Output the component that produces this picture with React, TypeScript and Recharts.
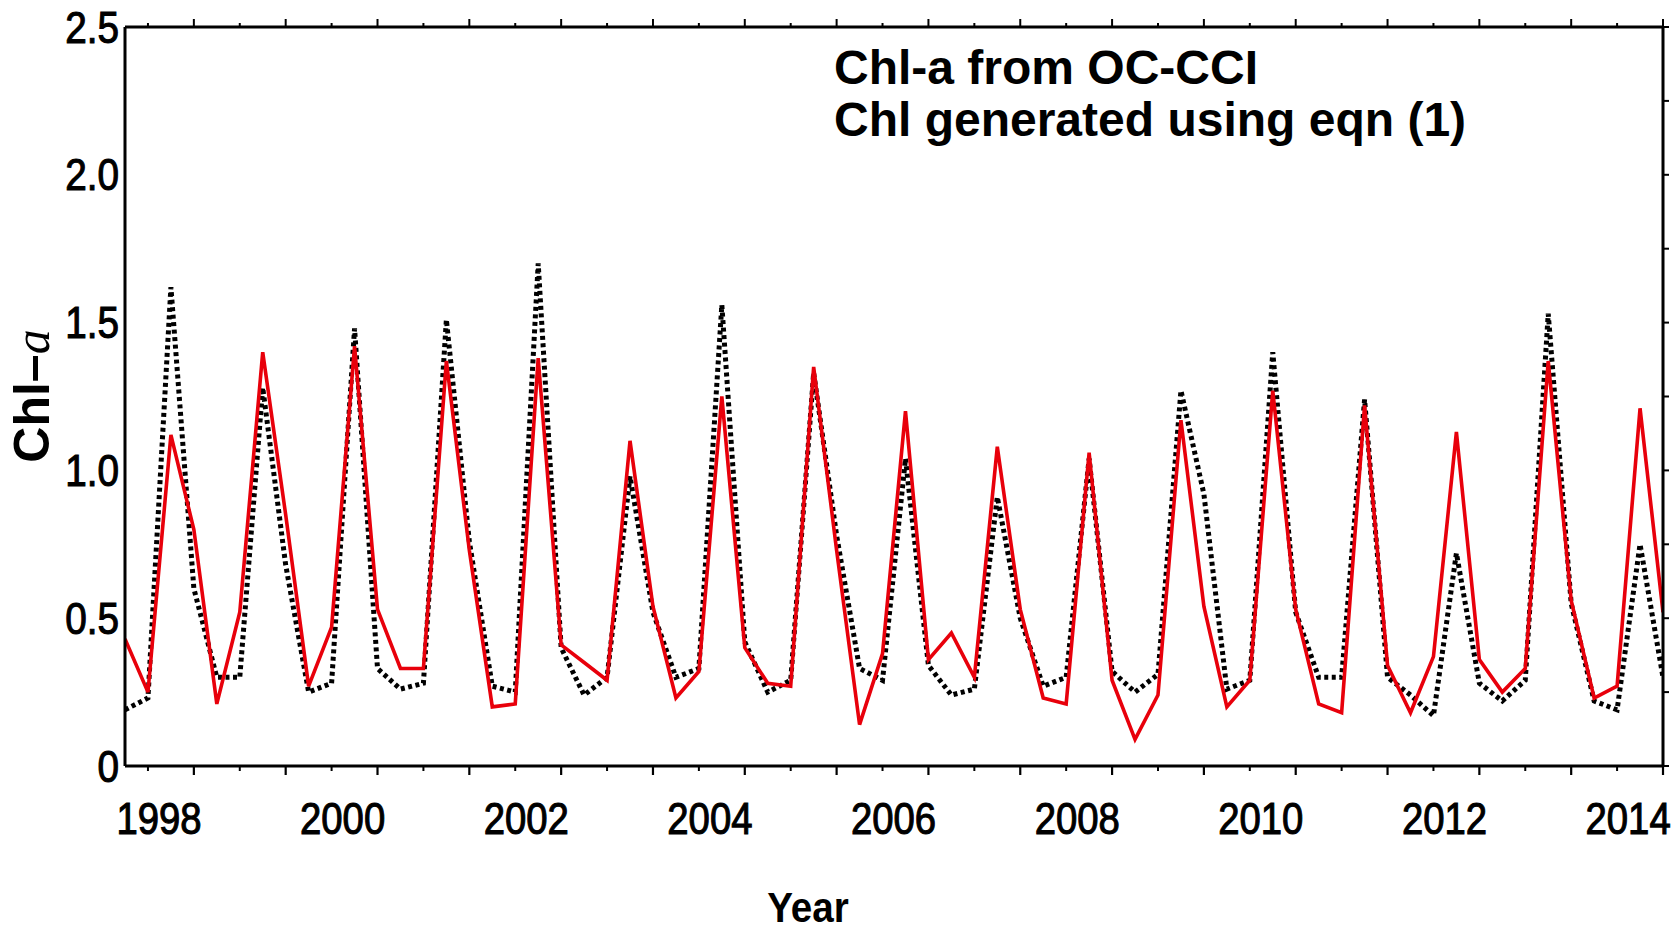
import React from 'react';
import { LineChart, Line, XAxis, YAxis, Label } from 'recharts';

// Seasonal (3-monthly) Chl-a series, first season ~ autumn 1997
const occciChl = [
  0.19, 0.23, 1.62, 0.60, 0.30, 0.30, 1.28, 0.68, 0.25, 0.28,
  1.48, 0.33, 0.26, 0.28, 1.51, 0.76, 0.27, 0.25, 1.70, 0.40,
  0.24, 0.30, 0.98, 0.52, 0.30, 0.33, 1.56, 0.42, 0.25, 0.29,
  1.33, 0.78, 0.33, 0.29, 1.04, 0.34, 0.24, 0.26, 0.91, 0.50,
  0.27, 0.30, 1.04, 0.32, 0.25, 0.31, 1.27, 0.92, 0.26, 0.29,
  1.40, 0.52, 0.30, 0.30, 1.24, 0.30, 0.24, 0.17, 0.72, 0.28,
  0.22, 0.29, 1.53, 0.55, 0.22, 0.19, 0.75, 0.30,
];

const eqnChl = [
  0.43, 0.25, 1.12, 0.80, 0.21, 0.52, 1.40, 0.85, 0.27, 0.47,
  1.42, 0.53, 0.33, 0.33, 1.37, 0.73, 0.20, 0.21, 1.38, 0.41,
  0.35, 0.29, 1.10, 0.54, 0.23, 0.32, 1.25, 0.40, 0.28, 0.27,
  1.35, 0.73, 0.14, 0.38, 1.20, 0.36, 0.45, 0.30, 1.08, 0.53,
  0.23, 0.21, 1.06, 0.29, 0.09, 0.24, 1.17, 0.54, 0.20, 0.29,
  1.27, 0.53, 0.21, 0.18, 1.22, 0.34, 0.18, 0.37, 1.13, 0.36,
  0.25, 0.33, 1.37, 0.56, 0.23, 0.27, 1.21, 0.52,
];

const FIRST_SEASON = 1997.75;
const SEASON_STEP = 0.25;
const X_DOMAIN = [1997.75, 2014.5];

const yearLabels = ['1998', '2000', '2002', '2004', '2006', '2008', '2010', '2012', '2014'];
const tickYears = [
  1998, 1999, 2000, 2001, 2002, 2003, 2004, 2005, 2006,
  2007, 2008, 2009, 2010, 2011, 2012, 2013, 2014,
];
const yTickValues = [0, 0.5, 1, 1.5, 2, 2.5];
const yTickLabels = ['0', '0.5', '1.0', '1.5', '2.0', '2.5'];
const rightTickValues = [0, 0.25, 0.5, 0.75, 1, 1.25, 1.5, 1.75, 2, 2.25, 2.5];

const LABEL_SHIFT = 0.12;

const data = occciChl.map((v, i) => ({
  t: FIRST_SEASON + i * SEASON_STEP,
  occci: v,
  eqn: eqnChl[i],
}));

const keyOf = (v: number) => Math.round(v * 1000);
const majorTicks = tickYears.map((y) => y + 0.5);
const minorTicks = tickYears.map((y) => y);
const labelTicks = yearLabels.map((l) => Number(l) + LABEL_SHIFT);

const kindMap = new Map<number, string>();
majorTicks.forEach((v) => kindMap.set(keyOf(v), 'major'));
minorTicks.forEach((v) => kindMap.set(keyOf(v), 'minor'));
const labelTextMap = new Map<number, string>();
labelTicks.forEach((v, i) => {
  kindMap.set(keyOf(v), 'label');
  labelTextMap.set(keyOf(v), yearLabels[i]);
});

const FONT = '"Liberation Sans", Arial, Helvetica, sans-serif';

const BottomTick = (props: any) => {
  const { x, y, payload } = props;
  const k = kindMap.get(keyOf(payload.value));
  if (k === 'major') return <line x1={x} x2={x} y1={y} y2={y + 9} stroke="#000" strokeWidth={2.2} />;
  if (k === 'minor') return <line x1={x} x2={x} y1={y} y2={y + 5} stroke="#000" strokeWidth={2} />;
  if (k === 'label')
    return (
      <text
        transform={`translate(${x},${y + 68}) scale(0.87,1)`}
        textAnchor="middle"
        fontSize={44}
        fontFamily={FONT}
        fill="#000"
        stroke="#000"
        strokeWidth={1.1}
      >
        {labelTextMap.get(keyOf(payload.value))}
      </text>
    );
  return null;
};

const TopTick = (props: any) => {
  const { x, y, payload } = props;
  const k = kindMap.get(keyOf(payload.value));
  const len = k === 'major' ? 8 : 4;
  return <line x1={x} x2={x} y1={y} y2={y - len} stroke="#000" strokeWidth={2} />;
};

const LeftTick = (props: any) => {
  const { x, y, payload } = props;
  const idx = yTickValues.findIndex((v) => Math.abs(v - payload.value) < 1e-6);
  return (
    <text
      transform={`translate(${x - 6},${y + 15.5}) scale(0.88,1)`}
      textAnchor="end"
      fontSize={44}
      fontFamily={FONT}
      fill="#000"
      stroke="#000"
      strokeWidth={1.1}
    >
      {yTickLabels[idx]}
    </text>
  );
};

const RightTick = (props: any) => {
  const { x, y } = props;
  return <line x1={x} x2={x + 6} y1={y} y2={y} stroke="#000" strokeWidth={2} />;
};

const YTitle = () => (
  <text
    transform="translate(49,396) rotate(-90)"
    textAnchor="middle"
    fontSize={50}
    fontFamily={FONT}
    fontWeight="bold"
    fill="#000"
  >
    <tspan>Chl–</tspan>
    <tspan fontFamily='"Liberation Serif", "DejaVu Serif", serif' fontStyle="italic" fontWeight="normal">a</tspan>
  </text>
);

const XTitle = () => (
  <text
    transform="translate(808,922) scale(0.92,1)"
    textAnchor="middle"
    fontSize={42}
    fontFamily={FONT}
    fontWeight="bold"
    fill="#000"
  >
    Year
  </text>
);

export default function App() {
  const axisLine = { stroke: '#000', strokeWidth: 3 };
  return (
    <div style={{ position: 'relative', width: 1679, height: 930, background: '#fff' }}>
      <style>{'body{margin:0;background:#fff;}'}</style>
      <LineChart width={1679} height={930} data={data} margin={{ top: 0, right: 0, bottom: 0, left: 0 }}>
        <XAxis
          xAxisId="b"
          dataKey="t"
          type="number"
          domain={X_DOMAIN}
          allowDataOverflow
          orientation="bottom"
          height={164}
          ticks={[...majorTicks, ...minorTicks, ...labelTicks]}
          interval={0}
          tickSize={0}
          tickMargin={0}
          tickLine={false}
          axisLine={axisLine}
          tick={<BottomTick />}
        >
          <Label content={<XTitle />} />
        </XAxis>
        <XAxis
          xAxisId="t"
          dataKey="t"
          type="number"
          domain={X_DOMAIN}
          allowDataOverflow
          orientation="top"
          height={27}
          ticks={[...majorTicks, ...minorTicks]}
          interval={0}
          tickSize={0}
          tickMargin={0}
          tickLine={false}
          axisLine={axisLine}
          tick={<TopTick />}
        />
        <YAxis
          yAxisId="l"
          type="number"
          domain={[0, 2.5]}
          allowDataOverflow
          orientation="left"
          width={125}
          ticks={yTickValues}
          interval={0}
          tickSize={0}
          tickMargin={0}
          tickLine={false}
          axisLine={axisLine}
          tick={<LeftTick />}
        >
          <Label content={<YTitle />} />
        </YAxis>
        <YAxis
          yAxisId="r"
          type="number"
          domain={[0, 2.5]}
          allowDataOverflow
          orientation="right"
          width={16}
          ticks={rightTickValues}
          interval={0}
          tickSize={0}
          tickMargin={0}
          tickLine={false}
          axisLine={axisLine}
          tick={<RightTick />}
        />
        <Line
          xAxisId="b"
          yAxisId="l"
          type="linear"
          dataKey="occci"
          stroke="#000"
          strokeWidth={5}
          strokeDasharray="4 3.5"
          dot={false}
          activeDot={false}
          isAnimationActive={false}
        />
        <Line
          xAxisId="b"
          yAxisId="l"
          type="linear"
          dataKey="eqn"
          stroke="#e8000b"
          strokeWidth={3.6}
          dot={false}
          activeDot={false}
          isAnimationActive={false}
        />
      </LineChart>
      <svg
        width={1679}
        height={930}
        style={{ position: 'absolute', left: 0, top: 0, pointerEvents: 'none' }}
      >
        <text x={834} y={84} fontSize={48} fontWeight="bold" fontFamily={FONT} fill="#000">
          Chl-a from OC-CCI
        </text>
        <text x={834} y={136} fontSize={48} fontWeight="bold" fontFamily={FONT} fill="#000">
          Chl generated using eqn (1)
        </text>
      </svg>
    </div>
  );
}
